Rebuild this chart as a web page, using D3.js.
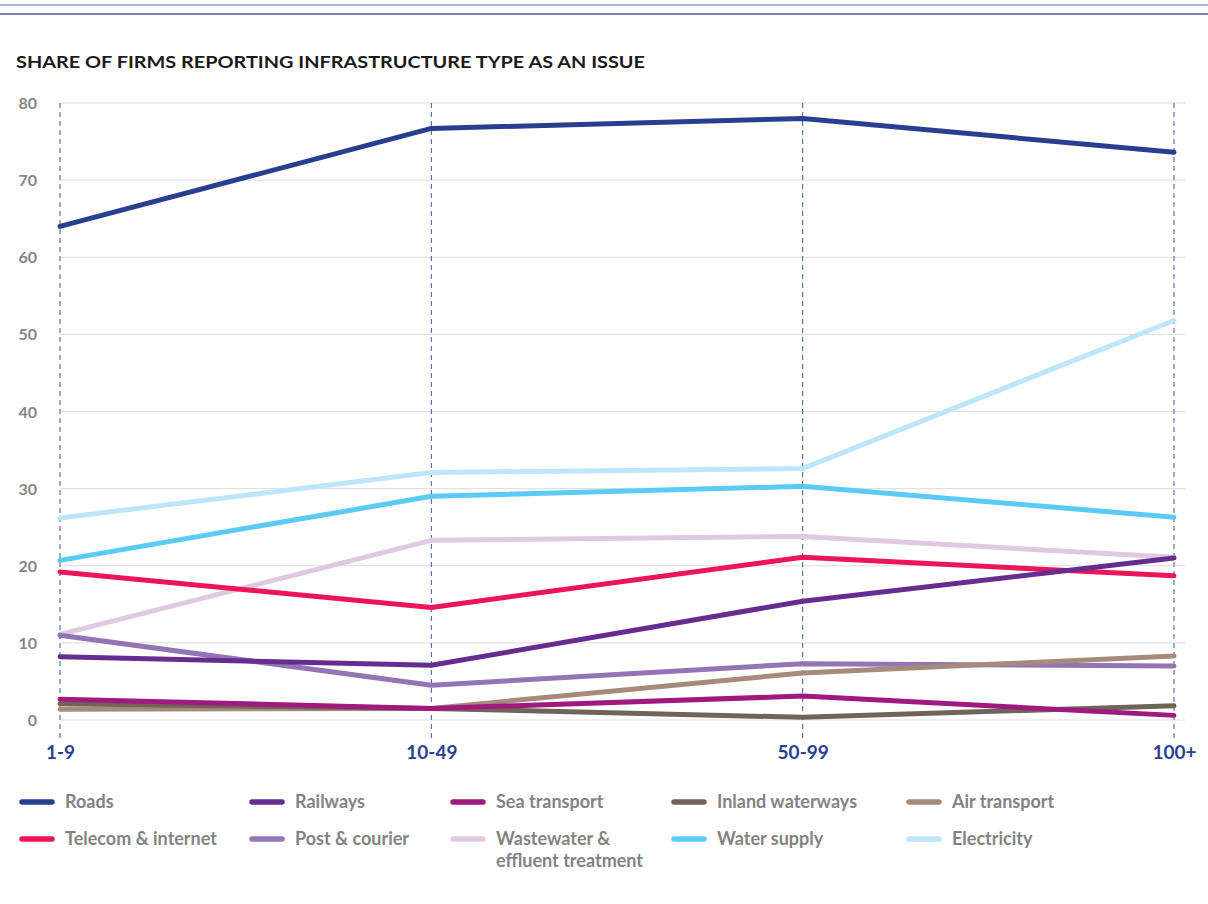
<!DOCTYPE html>
<html>
<head>
<meta charset="utf-8">
<script src="https://cdn.jsdelivr.net/npm/d3@7"></script>
<style>
  html, body { margin: 0; padding: 0; background: #ffffff; }
  svg { display: block; font-family: Lato, "Noto Sans", sans-serif; }
</style>
</head>
<body>
<svg id="chart" width="1208" height="904"></svg>
<script>
// Firm size classes (number of employees)
const sizeClasses = ["1-9", "10-49", "50-99", "100+"];
const yTicks = [0, 10, 20, 30, 40, 50, 60, 70, 80];

// Share of firms (%) reporting each infrastructure type as an issue
const seriesNames = [
  "Roads", "Railways", "Sea transport", "Inland waterways", "Air transport",
  "Telecom & internet", "Post & courier", "Wastewater & effluent treatment",
  "Water supply", "Electricity"
];
const roads        = [64.0, 76.7, 78.0, 73.6];
const railways     = [8.2, 7.1, 15.4, 21.0];
const seaTransport = [2.7, 1.5, 3.1, 0.6];
const inlandWater  = [2.1, 1.5, 0.35, 1.85];
const airTransport = [1.4, 1.5, 6.1, 8.3];
const telecom      = [19.2, 14.6, 21.1, 18.7];
const postCourier  = [11.0, 4.5, 7.3, 7.0];
const wastewater   = [11.1, 23.3, 23.8, 21.1];
const waterSupply  = [20.7, 29.0, 30.3, 26.3];
const electricity  = [26.2, 32.1, 32.6, 51.8];

const seriesValues = [roads, railways, seaTransport, inlandWater, airTransport,
                      telecom, postCourier, wastewater, waterSupply, electricity];
const seriesColors = ["#283f8f", "#662d91", "#a0197f", "#706357", "#a68b7c",
                      "#ed1459", "#9474b4", "#e0c8e0", "#5bcbf5", "#bde6f9"];

const svg = d3.select("#chart");

// Header rules
svg.append("line").attr("x1", 0).attr("x2", 1208).attr("y1", 5).attr("y2", 5)
  .attr("stroke", "#8e9cc9").attr("stroke-width", 1.5);
svg.append("line").attr("x1", 0).attr("x2", 1208).attr("y1", 14).attr("y2", 14)
  .attr("stroke", "#4a5c98").attr("stroke-width", 1.5);

// Title
svg.append("text")
  .attr("x", 16).attr("y", 68)
  .attr("font-size", 17.5).attr("font-weight", 700).attr("fill", "#1a1a1a")
  .attr("textLength", 629).attr("lengthAdjust", "spacingAndGlyphs")
  .text("SHARE OF FIRMS REPORTING INFRASTRUCTURE TYPE AS AN ISSUE");

const x = d3.scalePoint().domain(sizeClasses).range([60, 1174]);
const y = d3.scaleLinear().domain([0, 80]).range([720, 103]);

// Horizontal gridlines
svg.append("g").selectAll("line").data(yTicks).join("line")
  .attr("x1", 60).attr("x2", 1185)
  .attr("y1", d => y(d)).attr("y2", d => y(d))
  .attr("stroke", "#dcdcdc").attr("stroke-width", 1);

// Y axis labels
const yAxis = d3.axisLeft(y).tickValues(yTicks).tickSize(0).tickPadding(0);
svg.append("g").attr("transform", "translate(37,0)").call(yAxis)
  .call(g => g.select(".domain").remove())
  .call(g => g.selectAll("text")
    .attr("font-family", "Lato, sans-serif").attr("font-size", 16)
    .attr("font-weight", 700).attr("fill", "#858585").attr("dy", "0.35em"));

// Dashed guides at each size class
svg.append("g").selectAll("line").data(sizeClasses).join("line")
  .attr("x1", d => x(d)).attr("x2", d => x(d))
  .attr("y1", y(80)).attr("y2", 738)
  .attr("stroke", "#3e54a3").attr("stroke-width", 1)
  .attr("stroke-dasharray", "5,4");

// X axis labels
const xAxis = d3.axisBottom(x).tickSize(0).tickPadding(0);
svg.append("g").attr("transform", "translate(0,759)").call(xAxis)
  .call(g => g.select(".domain").remove())
  .call(g => g.selectAll("text")
    .attr("dy", 0)
    .attr("font-family", "Lato, sans-serif").attr("font-size", 19)
    .attr("font-weight", 700).attr("fill", "#2a3f8e"));

// Series lines (drawn in reverse so Roads sits on top)
const line = d3.line()
  .x((d, i) => x(sizeClasses[i]))
  .y(d => y(d));

const order = d3.range(seriesNames.length).reverse();
svg.append("g").selectAll("path").data(order).join("path")
  .attr("d", i => line(seriesValues[i]))
  .attr("fill", "none")
  .attr("stroke", i => seriesColors[i])
  .attr("stroke-width", 5)
  .attr("stroke-linecap", "round")
  .attr("stroke-linejoin", "round");

// Legend
const legendCols = [20, 250, 451, 672, 907];
const legendRows = [802, 839];
const legend = svg.append("g");
seriesNames.forEach((name, i) => {
  const col = i % 5, row = Math.floor(i / 5);
  const lx = legendCols[col], ly = legendRows[row];
  legend.append("line")
    .attr("x1", lx + 2).attr("x2", lx + 32)
    .attr("y1", ly).attr("y2", ly)
    .attr("stroke", seriesColors[i]).attr("stroke-width", 5.5)
    .attr("stroke-linecap", "round");
  const t = legend.append("text")
    .attr("x", lx + 45).attr("y", ly)
    .attr("font-size", 18).attr("font-weight", 700).attr("fill", "#838383");
  const lines = name === "Wastewater & effluent treatment"
    ? ["Wastewater &", "effluent treatment"] : [name];
  lines.forEach((s, k) => {
    t.append("tspan").attr("x", lx + 45).attr("dy", k === 0 ? "0.35em" : 22).text(s);
  });
});
</script>
</body>
</html>
